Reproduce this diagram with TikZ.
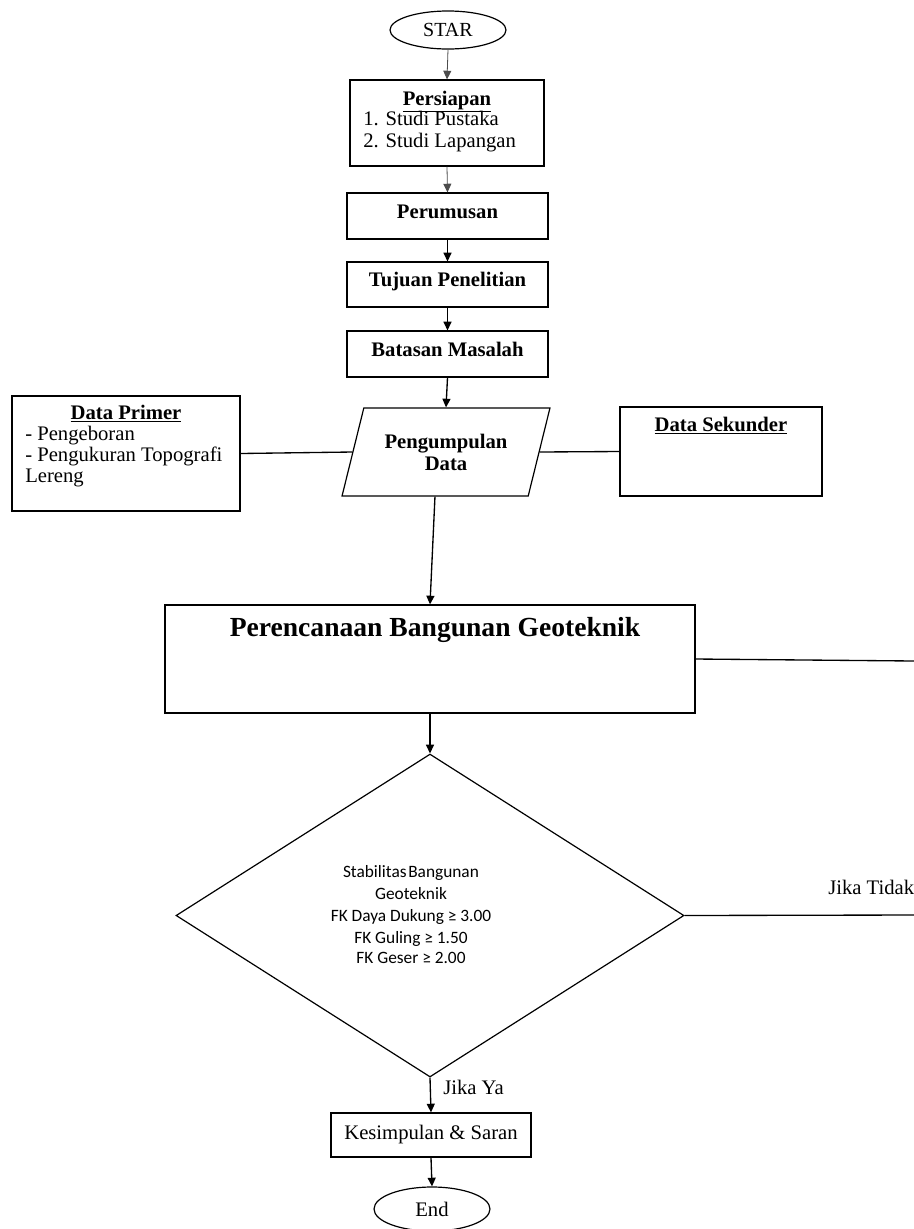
\documentclass[tikz,border=0pt]{standalone}
\usepackage{fontspec}
\setmainfont{Liberation Serif}
\newfontfamily\calf{Carlito}
\usetikzlibrary{shapes.geometric,arrows.meta}
\begin{document}
\begin{tikzpicture}[x=0.75pt,y=-0.75pt,
  box/.style={draw,line width=0.9pt,inner sep=0pt},
  arr/.style={-{Triangle[length=6.5pt,width=6pt]},line width=1pt},
  tarr/.style={-{Triangle[length=6.5pt,width=6pt]},line width=0.6pt,draw=black!70},
  ln/.style={line width=1pt},
  txt/.style={inner sep=0pt,font=\fontsize{15.5}{16.5}\selectfont},
  btxt/.style={inner sep=0pt,font=\fontsize{15.5}{16.5}\selectfont\bfseries},
  ctxt/.style={inner sep=0pt,font=\calf\fontsize{13}{16}\selectfont},
  lab/.style={inner sep=0pt,font=\fontsize{15.5}{16.5}\selectfont}]
\useasboundingbox (0,0) rectangle (914,1229);

% nodes
\node[box,ellipse,minimum width=87pt,minimum height=28.5pt,font=\fontsize{15}{16}\selectfont] (star) at (448,30) {STAR};

\node[box,minimum width=145.5pt,minimum height=64.5pt] (pers) at (447,123) {};
\node[btxt,anchor=base] (perst) at (447,105) {\underline{Persiapan}};
\node[txt,anchor=base west] (pers1) at (363,125) {1. Studi Pustaka};
\node[txt,anchor=base west] (pers2) at (363,147) {2. Studi Lapangan};

\node[box,minimum width=150.75pt,minimum height=34.5pt] (perum) at (447.5,216) {};
\node[btxt,anchor=base] (perumt) at (447.5,218) {Perumusan};

\node[box,minimum width=150.75pt,minimum height=33.75pt] (tuj) at (447.5,284.5) {};
\node[btxt,anchor=base] (tujt) at (447.5,286) {Tujuan Penelitian};

\node[box,minimum width=150.75pt,minimum height=34.5pt] (bat) at (447.5,354) {};
\node[btxt,anchor=base] (batt) at (447.5,356) {Batasan Masalah};

\node[box,trapezium,trapezium left angle=66,trapezium right angle=114,trapezium stretches=true,minimum width=156pt,minimum height=66pt,align=center,font=\fontsize{15.5}{16.5}\selectfont\bfseries] (peng) at (446,452) {Pengumpulan\\Data};

\node[box,minimum width=171pt,minimum height=86.25pt] (dp) at (126,453.5) {};
\node[btxt,anchor=base] (dpt) at (126,419) {\underline{Data Primer}};
\node[txt,anchor=base west] (dp1) at (25,440) {- Pengeboran};
\node[txt,anchor=base west] (dp2) at (25,461) {- Pengukuran Topografi};
\node[txt,anchor=base west] (dp3) at (25,482) {Lereng};

\node[box,minimum width=151.5pt,minimum height=66.75pt] (ds) at (721,451.5) {};
\node[btxt,anchor=base] (dst) at (721,431) {\underline{Data Sekunder}};

\node[box,minimum width=397.5pt,minimum height=81pt] (plan) at (430,659) {};
\node[inner sep=0pt,anchor=base,font=\fontsize{20.7}{22}\selectfont\bfseries] (plant) at (435,636) {Perencanaan Bangunan Geoteknik};

\node[box,diamond,minimum width=381pt,minimum height=242.25pt] (dia) at (430,915.5) {};
\node[ctxt,anchor=base] (d1) at (411,877) {Stabilitas\hspace{0.1em}Bangunan};
\node[ctxt,anchor=base] (d2) at (411,899) {Geoteknik};
\node[ctxt,anchor=base] (d3) at (411,921) {FK Daya Dukung ≥ 3.00};
\node[ctxt,anchor=base] (d4) at (411,943) {FK Guling ≥ 1.50};
\node[ctxt,anchor=base] (d5) at (411,963) {FK Geser ≥ 2.00};

\node[lab,anchor=base west] (tidak) at (828,894) {Jika Tidak};
\node[lab,anchor=base west] (ya) at (443,1094) {Jika Ya};

\node[box,minimum width=150pt,minimum height=33pt,font=\fontsize{15.5}{16.5}\selectfont] (kes) at (431,1135) {Kesimpulan \& Saran};

\node[box,ellipse,minimum width=87pt,minimum height=33pt,font=\fontsize{15.5}{16.5}\selectfont] (endn) at (432,1209) {End};

\coordinate (r1) at (914,661);
\coordinate (r2) at (914,915);

% connectors
\draw[tarr] (star.south) -- (pers.north);
\draw[tarr] (pers.south) -- (perum.north);
\draw[arr] (perum.south) -- (tuj.north);
\draw[arr] (tuj.south) -- (bat.north);
\draw[arr] (bat.south) -- (peng.north);
\draw[ln] (dp.east) -- (peng.left side);
\draw[ln] (peng.right side) -- (ds.west);
\draw[arr] (peng.bottom side) -- (plan.north);
\draw[ln] (plan.east) -- (r1);
\draw[arr] (plan.south) -- (dia.north);
\draw[ln] (dia.east) -- (r2);
\draw[arr] (dia.south) -- (kes.north);
\draw[arr] (kes.south) -- (endn.north);
\end{tikzpicture}
\end{document}
